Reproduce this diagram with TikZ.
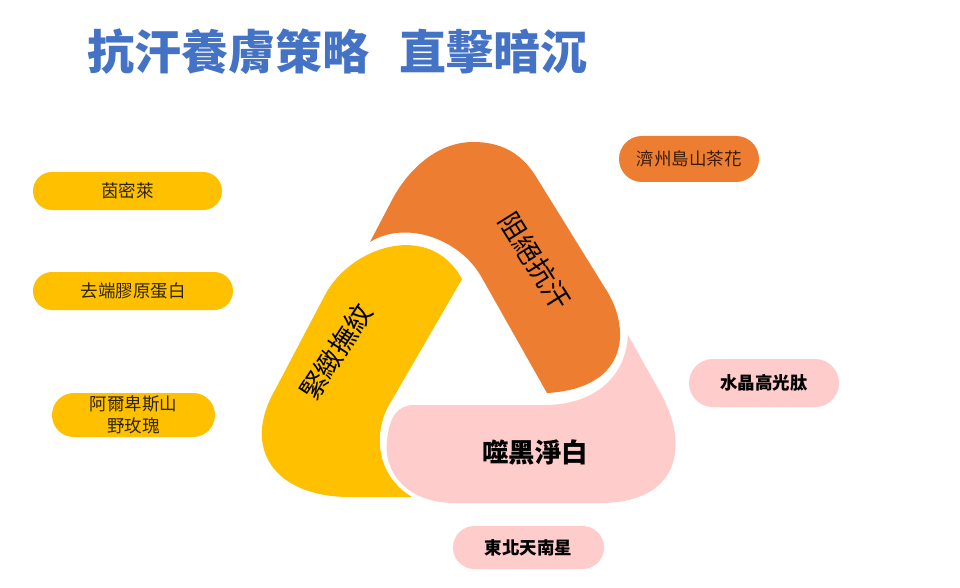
\documentclass[tikz,border=0pt]{standalone}
\usepackage{fontspec}
\newfontfamily\cjk{Noto Sans CJK TC}
\definecolor{orangeC}{HTML}{ED7D31}
\definecolor{yellowC}{HTML}{FFC000}
\definecolor{pinkC}{HTML}{FFCCCC}
\definecolor{titleC}{HTML}{4472C4}
\definecolor{ytext}{HTML}{2E2508}
\definecolor{otext}{HTML}{3A1C08}
\begin{document}
\begin{tikzpicture}[x=1pt,y=-1pt,
  pill/.style={inner sep=0pt, align=center, font=\cjk\fontsize{17.5}{22}\selectfont},
  pillY/.style={pill, fill=yellowC, text=ytext},
  pillO/.style={pill, fill=orangeC, text=otext},
  pillP/.style={pill, fill=pinkC, text=black, font=\cjk\bfseries\fontsize{17.5}{22}\selectfont},
  bandlabel/.style={inner sep=0pt, text=black, font=\cjk\fontsize{27}{30}\selectfont}]
\fill[white] (0,0) rectangle (960,588);
\useasboundingbox (0,0) rectangle (960,588);

% title
\node[anchor=base west, inner sep=0pt, text=titleC,
      font=\cjk\bfseries\fontsize{47}{52}\selectfont] (title) at (87,70)
      {抗汗養膚策略\hspace{30pt}直擊暗沉};

% orange band (top, right side)
\fill[orangeC] (370,242) -- (392,200)
  .. controls (410,166) and (440,142) .. (473,142)
  .. controls (500,142) and (520,152) .. (535,175)
  -- (605,288)
  .. controls (630,325) and (632,388) .. (547,393)
  -- (482,278)
  .. controls (460,238) and (405,220) .. (370,242) -- cycle;

% yellow band (left side)
\fill[yellowC] (412,497) -- (350,497)
  .. controls (275,497) and (241,449) .. (275,390)
  -- (325,295)
  .. controls (350.6,246.3) and (430,220) .. (462,279)
  -- (392,400)
  .. controls (372,430) and (375,475) .. (412,497) -- cycle;

% pink band (bottom)
\fill[pinkC] (628,335) -- (660,392)
  .. controls (690,445) and (680,503) .. (600,503)
  -- (455,503)
  .. controls (405,503) and (383,470) .. (387,440)
  .. controls (390,415) and (398,405) .. (415,405)
  -- (545,405)
  .. controls (585,405) and (625,385) .. (628,335) -- cycle;

% band labels
\node[bandlabel, rotate=-58] (lblO) at (535,261) {阻絕抗汗};
\node[bandlabel, rotate=57] (lblY) at (336,352) {緊緻撫紋};
\node[bandlabel, font=\cjk\bfseries\fontsize{26.5}{30}\selectfont] (lblP) at (535,452) {噬黑淨白};

% pills
\node[pillY, minimum width=189pt, minimum height=38pt, rounded corners=18.9pt] (p1) at (127.5,191) {茵密萊};
\node[pillY, minimum width=200pt, minimum height=38pt, rounded corners=18.9pt] (p2) at (133,291) {去端膠原蛋白};
\node[pillY, minimum width=163pt, minimum height=44pt, rounded corners=21.9pt] (p3) at (133.5,415) {阿爾卑斯山\\野玫瑰};
\node[pillO, minimum width=140pt, minimum height=46pt, rounded corners=22.9pt] (p4) at (689,159) {濟州島山茶花};
\node[pillP, minimum width=150pt, minimum height=48pt, rounded corners=23.9pt] (p5) at (764,383) {水晶高光肽};
\node[pillP, minimum width=151pt, minimum height=43pt, rounded corners=21.4pt] (p6) at (528.5,547.5) {東北天南星};
\end{tikzpicture}
\end{document}
